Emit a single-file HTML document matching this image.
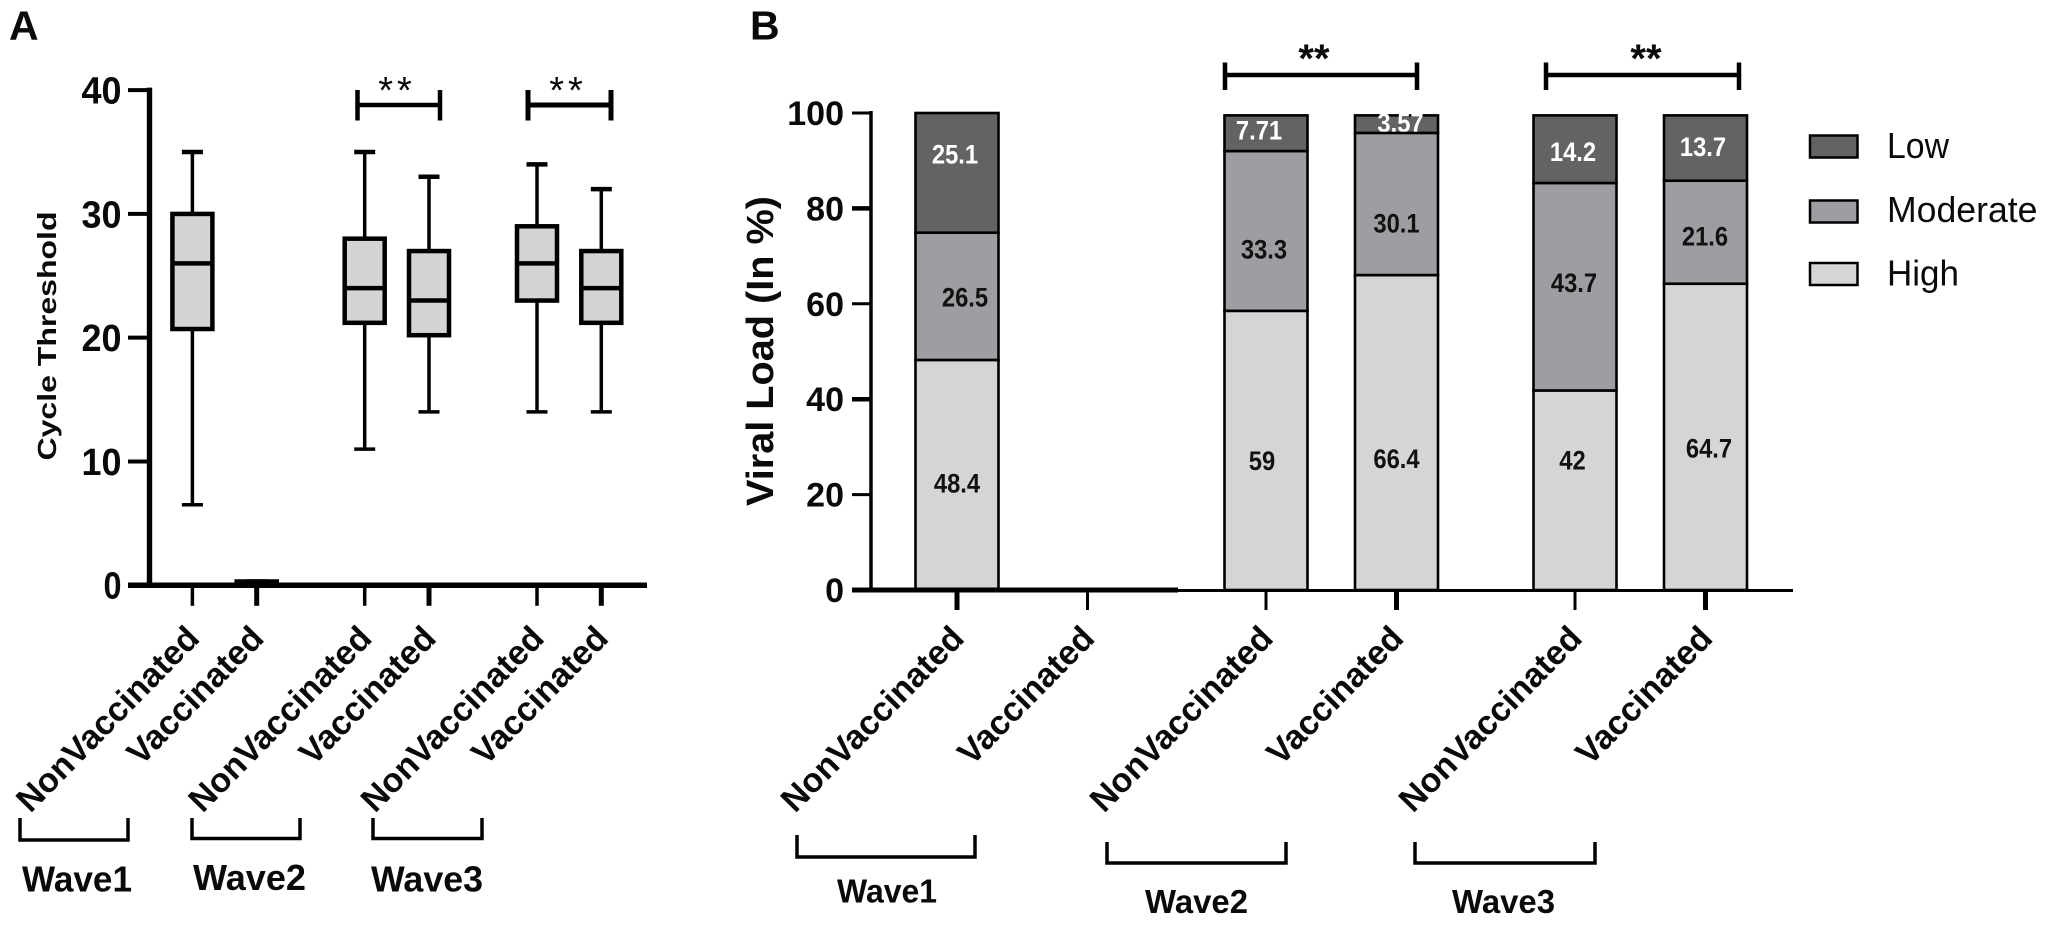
<!DOCTYPE html>
<html lang="en">
<head>
<meta charset="utf-8">
<title>Cycle Threshold and Viral Load by Wave</title>
<style>
html,body{margin:0;padding:0;background:#fff;width:2047px;height:933px;overflow:hidden}
svg{display:block}
text{font-family:"Liberation Sans",Arial,sans-serif;fill:#0a0a0a}
.b{font-weight:bold}
</style>
</head>
<body>
<svg id="fig" xmlns="http://www.w3.org/2000/svg" width="2047" height="933" viewBox="0 0 2047 933">
  <rect width="2047" height="933" fill="#fff"/>
  <text class="b" x="9" y="39.5" font-size="41">A</text>
  <text class="b" x="750" y="39.5" font-size="41">B</text>

  <text class="b" transform="translate(56,336) rotate(-90)" text-anchor="middle" font-size="26" textLength="249" lengthAdjust="spacingAndGlyphs">Cycle Threshold</text>
  <text class="b" transform="translate(773,351) rotate(-90)" text-anchor="middle" font-size="38" textLength="310" lengthAdjust="spacingAndGlyphs">Viral Load (In %)</text>

  <g id="panelA"></g>
  <g id="panelB"></g>

  <g fill="none" stroke="#000">
    <path d="M356 105H441M357.5 90V120.5M440 90V120.5" stroke-width="4.5"/>
    <path d="M527 105H612M528 90V120.5M611 90V120.5" stroke-width="5"/>
    <path d="M1225 75H1417M1225 62.5V90M1417 62.5V90" stroke-width="4.5"/>
    <path d="M1546 75H1739M1546 62.5V90M1739 62.5V90" stroke-width="4.5"/>
  </g>
  <text x="397" y="103" font-size="38" text-anchor="middle" letter-spacing="4">**</text>
  <text x="568" y="103" font-size="38" text-anchor="middle" letter-spacing="4">**</text>
  <text class="b" x="1314" y="72" font-size="40" text-anchor="middle">**</text>
  <text class="b" x="1646" y="72" font-size="40" text-anchor="middle">**</text>

  <g fill="none" stroke="#000" stroke-width="3.5">
    <path d="M20 818V840H128V818"/>
    <path d="M192 818V838.5H300V818"/>
    <path d="M373 818V838.5H482V818"/>
    <path d="M797 835V857H975V835"/>
    <path d="M1107 842V863H1286V842"/>
    <path d="M1415 842V863H1595V842"/>
  </g>
  <text class="b" x="22" y="891.5" font-size="36" textLength="110" lengthAdjust="spacingAndGlyphs">Wave1</text>
  <text class="b" x="193" y="890" font-size="36" textLength="113" lengthAdjust="spacingAndGlyphs">Wave2</text>
  <text class="b" x="371" y="891.5" font-size="36" textLength="112" lengthAdjust="spacingAndGlyphs">Wave3</text>
  <text class="b" x="837" y="902.5" font-size="33" textLength="100" lengthAdjust="spacingAndGlyphs">Wave1</text>
  <text class="b" x="1145" y="913" font-size="33" textLength="103" lengthAdjust="spacingAndGlyphs">Wave2</text>
  <text class="b" x="1452" y="913" font-size="33" textLength="103" lengthAdjust="spacingAndGlyphs">Wave3</text>

  <g>
    <rect x="1810" y="135.5" width="47.5" height="22" fill="#636363" stroke="#000" stroke-width="2.5"/>
    <text x="1887" y="158" font-size="36" textLength="62" lengthAdjust="spacingAndGlyphs">Low</text>
    <rect x="1810" y="200.5" width="47.5" height="22" fill="#9e9ea2" stroke="#000" stroke-width="2.5"/>
    <text x="1887" y="222" font-size="36" textLength="150.5" lengthAdjust="spacingAndGlyphs">Moderate</text>
    <rect x="1810" y="263" width="47.5" height="22" fill="#d5d5d5" stroke="#000" stroke-width="2.5"/>
    <text x="1887" y="285.5" font-size="36" textLength="72" lengthAdjust="spacingAndGlyphs">High</text>
  </g>
</svg>

<script>
// Shared category labels
const categories = ["NonVaccinated", "Vaccinated", "NonVaccinated", "Vaccinated", "NonVaccinated", "Vaccinated"];
const waves = ["wave1", "wave1", "wave2", "wave2", "wave3", "wave3"];

// Panel A: box plot values (Cycle Threshold)
const ticksA = [0, 10, 20, 30, 40];
const whiskerHigh = [35, 0.3, 35, 33, 34, 32];
const quartile3 = [30, 0.3, 28, 27, 29, 27];
const median = [26, 0, 24, 23, 26, 24];
const quartile1 = [20.7, 0, 21.2, 20.2, 23, 21.2];
const whiskerLow = [6.5, 0, 11, 14, 14, 14];

// Panel B: stacked bar heights (Viral Load, %)
const ticksB = [0, 20, 40, 60, 80, 100];
const highLoad = [48.2, 0, 58.5, 66, 41.8, 64.2];
const moderateLoad = [26.7, 0, 33.5, 29.8, 43.5, 21.6];
const lowLoad = [25.1, 0, 7.5, 3.7, 14.2, 13.7];

// Panel B: numbers printed on the bars
const printedHigh = ["48.4", "", "59", "66.4", "42", "64.7"];
const printedModerate = ["26.5", "", "33.3", "30.1", "43.7", "21.6"];
const printedLow = ["25.1", "", "7.71", "3.57", "14.2", "13.7"];

const NS = "http://www.w3.org/2000/svg";
function make(parent, tag, attrs, content) {
  const node = document.createElementNS(NS, tag);
  for (const k in attrs) node.setAttribute(k, attrs[k]);
  if (content !== undefined) node.textContent = content;
  parent.appendChild(node);
  return node;
}

// Axis functions
function yA(v) { return 585.2 - v * 12.376; }
function xA(i) { return 192.4 + i * 64.3 + Math.floor(i / 2) * 43.7; }
function yB(v) { return 590 - v * 4.77; }
function xB(i) { return 957 + i * 130.5 + Math.floor(i / 2) * 48; }

function drawCategoryLabel(group, x, i, panel) {
  const label = make(group, "text", {
    class: "b", "font-size": 34, "text-anchor": "end",
    transform: "translate(" + (x + 8.8) + ",640) rotate(-45.5)"
  }, categories[i]);
  
  
}

function drawPanelA() {
  const g = document.getElementById("panelA");
  const yAxis = make(g, "line", { x1: 149.5, x2: 149.5, y1: yA(40) - 2.5, y2: yA(0), stroke: "#000", "stroke-width": 5.4 });
  
  
  const xAxis = make(g, "line", { x1: 128, x2: 647, y1: yA(0), y2: yA(0), stroke: "#000", "stroke-width": 5.5 });
  
  

  ticksA.forEach(function (t) {
    const tick = make(g, "line", { x1: 128, x2: 149, y1: yA(t), y2: yA(t), stroke: "#000", "stroke-width": 4 });
    
    
    const label = make(g, "text", { class: "b", x: 121.5, y: yA(t) + 13.5, "font-size": 38, "text-anchor": "end", textLength: t === 0 ? 18 : 40, lengthAdjust: "spacingAndGlyphs" }, String(t));
    
    
  });

  categories.forEach(function (cat, i) {
    const x = xA(i);
    const tick = make(g, "line", { x1: x, x2: x, y1: yA(0), y2: 605.8, stroke: "#000", "stroke-width": i % 2 ? 5 : 3.5 });
    
    
    drawCategoryLabel(g, x, i, 'a');

    const box = make(g, "g", {});
    
    
    const halfBox = 20, halfCap = 10.5;
    const stroke = { stroke: "#000", fill: "none" };
    make(box, "line", Object.assign({ x1: x, x2: x, y1: yA(whiskerHigh[i]), y2: yA(whiskerLow[i]), "stroke-width": 3.5 }, stroke));
    make(box, "line", Object.assign({ x1: x - halfCap, x2: x + halfCap, y1: yA(whiskerHigh[i]), y2: yA(whiskerHigh[i]), "stroke-width": 4.5 }, stroke));
    make(box, "line", Object.assign({ x1: x - halfCap, x2: x + halfCap, y1: yA(whiskerLow[i]), y2: yA(whiskerLow[i]), "stroke-width": 3.5 }, stroke));
    make(box, "rect", { x: x - halfBox, y: yA(quartile3[i]), width: halfBox * 2, height: yA(quartile1[i]) - yA(quartile3[i]), fill: "#d4d4d4", stroke: "#000", "stroke-width": 4.5 });
    make(box, "line", Object.assign({ x1: x - halfBox, x2: x + halfBox, y1: yA(median[i]), y2: yA(median[i]), "stroke-width": 4.5 }, stroke));
  });
}

function drawPanelB() {
  const g = document.getElementById("panelB");

  // Hand-placed offsets of the printed numbers from each segment's middle: [dx, dy]
  const lowOffsets = [[-2, -19], [0, 0], [-7, -3.5], [4, -1.8], [-2, 2], [-2.5, -1.4]];
  const moderateOffsets = [[8, 0.5], [0, 0], [-2, 18], [0, 19], [-1, -4.5], [-0.5, 3.6]];
  const highOffsets = [[0, 8], [0, 0], [-4, 10], [0, 26], [-2.5, -30.5], [3.5, 11]];

  const barHalf = 41.5;
  function segment(i, base, value, fill, name, printed, labelFill, offset) {
    const x = xB(i);
    if (value <= 0) return;
    const top = yB(base + value), bottom = yB(base);
    const rect = make(g, "rect", { x: x - barHalf, y: top, width: barHalf * 2, height: bottom - top, fill: fill, stroke: "#000", "stroke-width": 2.6 });
    
    
    const cx = x + offset[0], cy = (top + bottom) / 2 + offset[1] + 9.5;
    const label = make(g, "text", { class: "b", "font-size": 27, "text-anchor": "middle", transform: "translate(" + cx + "," + cy + ") scale(0.88,1)" }, printed);
    label.style.fill = labelFill;
    
    
  }
  categories.forEach(function (cat, i) {
    segment(i, highLoad[i] + moderateLoad[i], lowLoad[i], "#636363", "low", printedLow[i], "#fff", lowOffsets[i]);
  });
  categories.forEach(function (cat, i) {
    segment(i, highLoad[i], moderateLoad[i], "#9e9ea2", "moderate", printedModerate[i], "#111", moderateOffsets[i]);
  });
  categories.forEach(function (cat, i) {
    segment(i, 0, highLoad[i], "#d5d5d5", "high", printedHigh[i], "#111", highOffsets[i]);
  });

  const yAxis = make(g, "line", { x1: 871, x2: 871, y1: yB(100) - 2, y2: yB(0), stroke: "#000", "stroke-width": 3.5 });
  
  
  const xAxis = make(g, "line", { x1: 852, x2: 1793, y1: yB(0) + 0.5, y2: yB(0) + 0.5, stroke: "#000", "stroke-width": 3 });
  
  
  const xAxisThick = make(g, "line", { x1: 852, x2: 1178, y1: yB(0), y2: yB(0), stroke: "#000", "stroke-width": 5 });
  
  

  ticksB.forEach(function (t) {
    const tick = make(g, "line", { x1: 852, x2: 871, y1: yB(t), y2: yB(t), stroke: "#000", "stroke-width": t === 80 || t === 40 ? 4.5 : 3 });
    
    
    const label = make(g, "text", { class: "b", x: 844, y: yB(t) + 12, "font-size": 34, "text-anchor": "end" }, String(t));
    
    
  });

  categories.forEach(function (cat, i) {
    const x = xB(i);
    const tick = make(g, "line", { x1: x, x2: x, y1: yB(0), y2: 610, stroke: "#000", "stroke-width": i % 3 === 0 || i === 5 ? 5 : 3 });
    
    
    drawCategoryLabel(g, x, i, 'b');
  });
}

drawPanelA();
drawPanelB();
</script>
</body>
</html>
